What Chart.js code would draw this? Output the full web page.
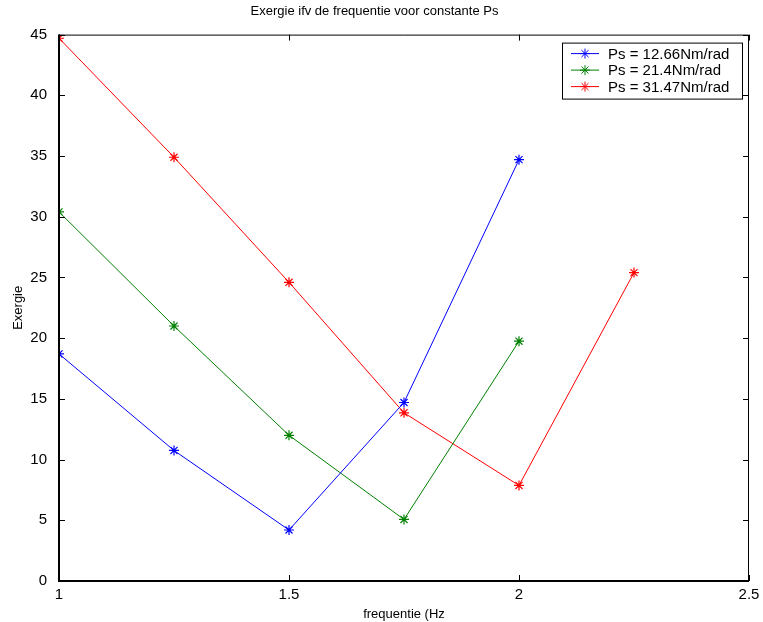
<!DOCTYPE html>
<html lang="nl">
<head>
    <meta charset="UTF-8">
    <title>Exergie ifv de frequentie</title>
    <script src="https://cdn.jsdelivr.net/npm/chart.js"></script>
    <style>
        html, body {
            margin: 0;
            padding: 0;
            background: #ffffff;
        }
        #wrap {
            width: 763px;
            height: 622px;
        }
    </style>
</head>
<body>
    <div id="wrap">
        <canvas id="exergieChart" width="763" height="622"></canvas>
    </div>

    <script>
        // frequentie (Hz)
        const freqA = [1, 1.25, 1.5, 1.75, 2];
        const freqB = [1, 1.25, 1.5, 1.75, 2, 2.25];

        // exergie per Ps
        const exergie1266 = [18.7, 10.75, 4.2, 14.7, 34.7];
        const exergie214 = [30.4, 21.0, 12.0, 5.07, 19.75];
        const exergie3147 = [44.7, 34.9, 24.6, 13.85, 7.87, 25.4];

        const seriesLabels = ['Ps = 12.66Nm/rad', 'Ps = 21.4Nm/rad', 'Ps = 31.47Nm/rad'];
        const seriesColors = ['#0000ff', '#008000', '#ff0000'];

        const xTicks = [1, 1.5, 2, 2.5];
        const yTicks = [0, 5, 10, 15, 20, 25, 30, 35, 40, 45];

        const FONT = "'Liberation Sans', Arial, sans-serif";

        function toPoints(xs, ys) {
            return xs.map((x, i) => ({ x: x, y: ys[i] }));
        }

        function makeSet(label, color, xs, ys) {
            return {
                label: label,
                data: toPoints(xs, ys),
                borderColor: color,
                backgroundColor: color,
                borderWidth: 1,
                pointStyle: 'star',
                pointRadius: 5,
                pointBorderWidth: 1.2,
                pointHoverRadius: 5,
                tension: 0
            };
        }

        // matlab-style box with inward ticks
        const frameBox = {
            id: 'frameBox',
            afterDatasetsDraw(chart) {
                const { ctx, chartArea: a, scales } = chart;
                const tick = 6;
                ctx.save();
                ctx.strokeStyle = '#000000';
                ctx.lineWidth = 1;
                ctx.beginPath();
                yTicks.forEach(v => {
                    const y = Math.round(scales.y.getPixelForValue(v)) + 0.5;
                    ctx.moveTo(a.left, y); ctx.lineTo(a.left + tick, y);
                    ctx.moveTo(a.right, y); ctx.lineTo(a.right - tick, y);
                });
                xTicks.forEach(v => {
                    const x = Math.round(scales.x.getPixelForValue(v)) + 0.5;
                    ctx.moveTo(x, a.bottom); ctx.lineTo(x, a.bottom - tick);
                    ctx.moveTo(x, a.top); ctx.lineTo(x, a.top + tick);
                });
                ctx.stroke();

                ctx.beginPath();
                ctx.moveTo(a.left, a.top + 0.5);
                ctx.lineTo(a.right - 0.5, a.top + 0.5);
                ctx.lineTo(a.right - 0.5, a.bottom);
                ctx.stroke();

                ctx.lineWidth = 2;
                ctx.beginPath();
                ctx.moveTo(a.left, a.top);
                ctx.lineTo(a.left, a.bottom);
                ctx.lineTo(a.right, a.bottom);
                ctx.stroke();
                ctx.restore();
            }
        };

        // legend box in the top right corner of the axes
        const boxLegend = {
            id: 'boxLegend',
            afterDraw(chart) {
                const { ctx, chartArea: a } = chart;
                const w = 180, h = 56;
                const x0 = a.right - 7 - w;
                const y0 = a.top + 8;
                ctx.save();
                ctx.fillStyle = '#ffffff';
                ctx.fillRect(x0, y0, w, h);
                ctx.strokeStyle = '#000000';
                ctx.lineWidth = 1;
                ctx.strokeRect(x0 + 0.5, y0 + 0.5, w, h);
                ctx.font = '15px ' + FONT;
                ctx.textBaseline = 'middle';
                chart.data.datasets.forEach((ds, i) => {
                    const y = y0 + 11 + i * 16.5;
                    ctx.strokeStyle = ds.borderColor;
                    ctx.lineWidth = 1;
                    ctx.beginPath();
                    ctx.moveTo(x0 + 9, y);
                    ctx.lineTo(x0 + 37, y);
                    ctx.stroke();
                    // asterisk marker
                    const cx = x0 + 23, r = 5;
                    ctx.beginPath();
                    ctx.moveTo(cx - r, y); ctx.lineTo(cx + r, y);
                    ctx.moveTo(cx, y - r); ctx.lineTo(cx, y + r);
                    const d = r * 0.707;
                    ctx.moveTo(cx - d, y - d); ctx.lineTo(cx + d, y + d);
                    ctx.moveTo(cx - d, y + d); ctx.lineTo(cx + d, y - d);
                    ctx.stroke();
                    ctx.fillStyle = '#000000';
                    ctx.fillText(ds.label, x0 + 46, y + 1);
                });
                ctx.restore();
            }
        };

        new Chart(document.getElementById('exergieChart'), {
            type: 'line',
            data: {
                datasets: [
                    makeSet(seriesLabels[0], seriesColors[0], freqA, exergie1266),
                    makeSet(seriesLabels[1], seriesColors[1], freqA, exergie214),
                    makeSet(seriesLabels[2], seriesColors[2], freqB, exergie3147)
                ]
            },
            options: {
                responsive: false,
                animation: false,
                layout: {
                    padding: { top: 0, right: 14, bottom: 0, left: 0 }
                },
                plugins: {
                    legend: { display: false },
                    tooltip: { enabled: false },
                    title: {
                        display: true,
                        text: 'Exergie ifv de frequentie voor constante Ps',
                        color: '#000000',
                        font: { family: FONT, size: 13, weight: 'normal' },
                        padding: { top: 4, bottom: 15 }
                    }
                },
                scales: {
                    x: {
                        type: 'linear',
                        min: 1,
                        max: 2.5,
                        afterBuildTicks: s => { s.ticks = xTicks.map(v => ({ value: v })); },
                        afterFit: s => { s.height = 41; },
                        grid: { display: false },
                        border: { display: false },
                        ticks: {
                            color: '#000000',
                            padding: -3,
                            maxRotation: 0,
                            font: { family: FONT, size: 15 },
                            callback: v => String(v)
                        },
                        title: {
                            display: true,
                            text: 'frequentie (Hz',
                            color: '#000000',
                            font: { family: FONT, size: 13 },
                            padding: { top: 2, bottom: 0 }
                        }
                    },
                    y: {
                        type: 'linear',
                        min: 0,
                        max: 45,
                        afterBuildTicks: s => { s.ticks = yTicks.map(v => ({ value: v })); },
                        afterFit: s => { s.width = 59; },
                        grid: { display: false },
                        border: { display: false },
                        ticks: {
                            color: '#000000',
                            padding: 4,
                            font: { family: FONT, size: 15 },
                            callback: v => String(v)
                        },
                        title: {
                            display: true,
                            text: 'Exergie',
                            color: '#000000',
                            font: { family: FONT, size: 13 },
                            padding: { top: 11, bottom: 4 }
                        }
                    }
                }
            },
            plugins: [frameBox, boxLegend]
        });
    </script>
</body>
</html>
